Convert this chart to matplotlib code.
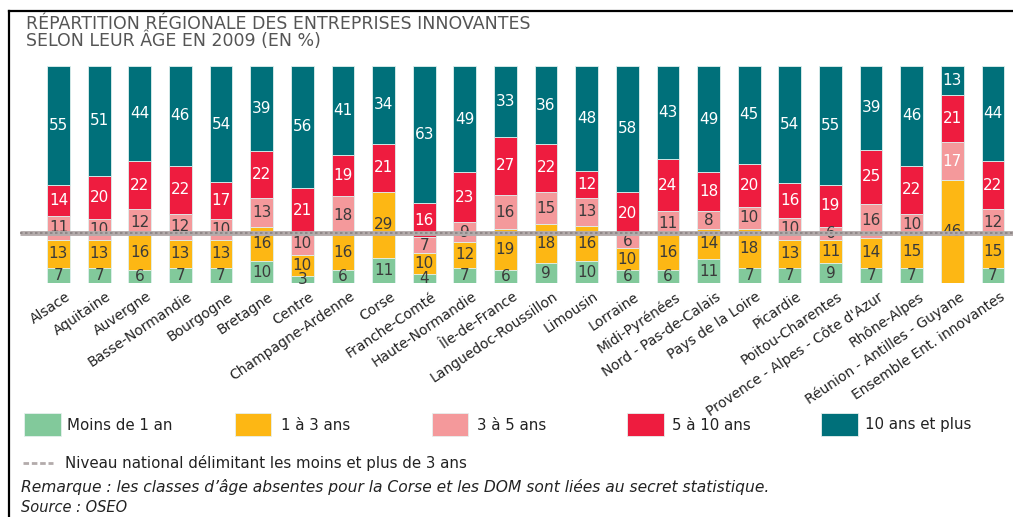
import matplotlib
matplotlib.use("Agg")
import matplotlib.pyplot as plt
from matplotlib.patches import Rectangle
from matplotlib.lines import Line2D
import numpy as np

plt.rcParams['font.family'] = ['DejaVu Sans']

regions = ["Alsace", "Aquitaine", "Auvergne", "Basse-Normandie", "Bourgogne", "Bretagne",
           "Centre", "Champagne-Ardenne", "Corse", "Franche-Comté", "Haute-Normandie",
           "Île-de-France", "Languedoc-Roussillon", "Limousin", "Lorraine", "Midi-Pyrénées",
           "Nord - Pas-de-Calais", "Pays de la Loire", "Picardie", "Poitou-Charentes",
           "Provence - Alpes - Côte d'Azur", "Rhône-Alpes", "Réunion - Antilles - Guyane",
           "Ensemble Ent. innovantes"]

moins_1an = [7, 7, 6, 7, 7, 10, 3, 6, 11, 4, 7, 6, 9, 10, 6, 6, 11, 7, 7, 9, 7, 7, 0, 7]
de_1_a_3 = [13, 13, 16, 13, 13, 16, 10, 16, 29, 10, 12, 19, 18, 16, 10, 16, 14, 18, 13, 11, 14, 15, 46, 15]
de_3_a_5 = [11, 10, 12, 12, 10, 13, 10, 18, 0, 7, 9, 16, 15, 13, 6, 11, 8, 10, 10, 6, 16, 10, 17, 12]
de_5_a_10 = [14, 20, 22, 22, 17, 22, 21, 19, 21, 16, 23, 27, 22, 12, 20, 24, 18, 20, 16, 19, 25, 22, 21, 22]
plus_10 = [55, 51, 44, 46, 54, 39, 56, 41, 34, 63, 49, 33, 36, 48, 58, 43, 49, 45, 54, 55, 39, 46, 13, 44]

series_names = ["Moins de 1 an", "1 à 3 ans", "3 à 5 ans", "5 à 10 ans", "10 ans et plus"]
national_level = 23

colors = ["#82C99B", "#FDB714", "#F4999B", "#EE1C3F", "#00707A"]
label_colors = ["#3a3a3a", "#3a3a3a", "#3a3a3a", "#ffffff", "#ffffff"]

W, H = 1013, 517
fig = plt.figure(figsize=(W / 100, H / 100), dpi=100)

# frame lines
fig.add_artist(Line2D([9 / W, 9 / W], [0, 1 - 11 / H], transform=fig.transFigure, color="black", lw=1.6))
fig.add_artist(Line2D([9 / W, 1], [1 - 11 / H, 1 - 11 / H], transform=fig.transFigure, color="black", lw=1.6))

# title
fig.text(26 / W, 1 - 24 / H, "RÉPARTITION RÉGIONALE DES ENTREPRISES INNOVANTES",
         fontsize=12.5, color="#555555", va="center", ha="left")
fig.text(26 / W, 1 - 41 / H, "SELON LEUR ÂGE EN 2009 (EN %)",
         fontsize=12.5, color="#555555", va="center", ha="left")

top_px, bot_px = 66, 283
ax = fig.add_axes([0, 1 - bot_px / H, 1, (bot_px - top_px) / H])
c0, step = 58.5, 40.63
ax.set_xlim(-c0 / step, (W - c0) / step)
ax.set_ylim(0, 100)
ax.axis("off")

data = np.array([moins_1an, de_1_a_3, de_3_a_5, de_5_a_10, plus_10], dtype=float)
totals = data.sum(axis=0)
norm = data / totals * 100
x = np.arange(len(regions))
bottom = np.zeros(len(regions))
for k in range(5):
    ax.bar(x, norm[k], 0.56, bottom=bottom, color=colors[k], edgecolor="#dff0ee", linewidth=0.6)
    for i in range(len(regions)):
        v = data[k, i]
        if v > 0:
            lc = label_colors[k]
            if k == 2 and i == 22:
                lc = "#ffffff"
            ax.text(x[i], bottom[i] + norm[k, i] / 2, f"{int(v)}", ha="center", va="center",
                    fontsize=11, color=lc)
    bottom += norm[k]

# national level line
xl = ax.get_xlim()
xs = (20 - c0) / step
ax.plot([xs, xl[1]], [national_level, national_level], color="#b3abab", lw=3.5, solid_capstyle="butt", zorder=5)
ax.plot([xs, xl[1]], [national_level, national_level], color="#8a8282", lw=1.2, dashes=(1.5, 1.5), zorder=6)

# x labels
for i, name in enumerate(regions):
    ax.text(x[i] + 0.16, -3.0, name, rotation=34, ha="right", va="top", rotation_mode="anchor",
            fontsize=10, color="#222222", clip_on=False)

# legend
sq = [(24, 61), (235, 271), (432, 468), (627, 664), (821, 858)]
tx = [67, 281, 477, 672, 865]
for k in range(5):
    x0, x1 = sq[k]
    fig.add_artist(Rectangle((x0 / W, 1 - 436 / H), (x1 - x0) / W, 23 / H, transform=fig.transFigure,
                             facecolor=colors[k], edgecolor="#e6f0ee", lw=0.6))
    fig.text(tx[k] / W, 1 - 425 / H, series_names[k], fontsize=10.8, color="#222222", va="center", ha="left")

fig.add_artist(Line2D([23 / W, 53 / W], [1 - 463 / H, 1 - 463 / H], transform=fig.transFigure,
                      color="#b3abab", lw=2, dashes=(2, 1)))
fig.text(65 / W, 1 - 463 / H, "Niveau national délimitant les moins et plus de 3 ans",
         fontsize=10.8, color="#222222", va="center", ha="left")
fig.text(21 / W, 1 - 487 / H,
         "Remarque : les classes d’âge absentes pour la Corse et les DOM sont liées au secret statistique.",
         fontsize=11.2, color="#222222", va="center", ha="left", style="italic")
fig.text(21 / W, 1 - 508 / H, "Source : OSEO", fontsize=10.5, color="#222222", va="center", ha="left",
         style="italic")

fig.savefig("out.png", dpi=100)
